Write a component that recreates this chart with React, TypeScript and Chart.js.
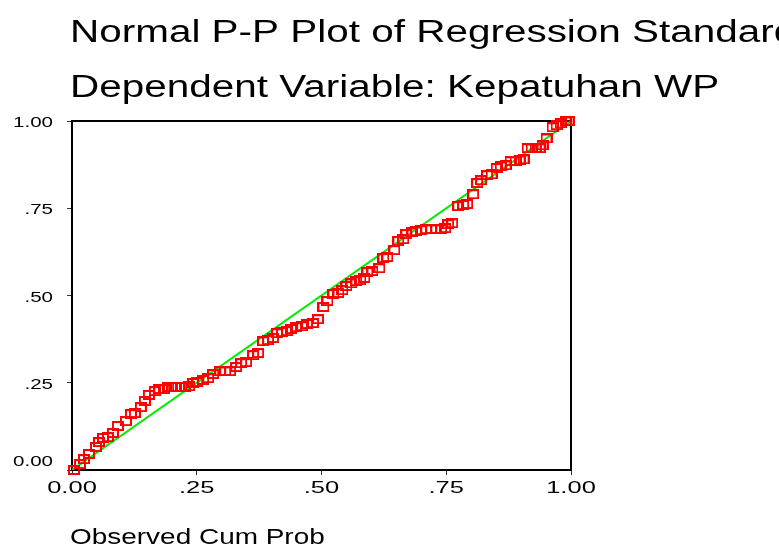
import React, { useEffect, useRef } from "react";
import { Chart, registerables } from "chart.js";

Chart.register(...registerables);

const titleLines = [
  "Normal P-P Plot of Regression Standardized Residual",
  "Dependent Variable: Kepatuhan WP",
];
const xAxisTitle = "Observed Cum Prob";
const tickValues = [0, 0.25, 0.5, 0.75, 1];
const xTickLabels = ["0.00", ".25", ".50", ".75", "1.00"];
const yTickLabels = ["0.00", ".25", ".50", ".75", "1.00"];

const observedCumProb = [
  0.004, 0.016, 0.024, 0.034, 0.048, 0.054, 0.062, 0.072, 0.082, 0.092,
  0.108, 0.118, 0.126, 0.138, 0.146, 0.154, 0.166, 0.175, 0.185, 0.193,
  0.201, 0.209, 0.219, 0.227, 0.235, 0.243, 0.251, 0.263, 0.273, 0.283,
  0.297, 0.307, 0.317, 0.329, 0.339, 0.349, 0.363, 0.373, 0.383, 0.393,
  0.403, 0.411, 0.421, 0.431, 0.439, 0.449, 0.461, 0.471, 0.483, 0.493,
  0.504, 0.512, 0.524, 0.534, 0.542, 0.55, 0.56, 0.57, 0.578, 0.586,
  0.592, 0.602, 0.616, 0.624, 0.632, 0.646, 0.654, 0.664, 0.67, 0.682,
  0.69, 0.7, 0.71, 0.72, 0.73, 0.74, 0.748, 0.754, 0.762, 0.774,
  0.784, 0.792, 0.804, 0.812, 0.82, 0.832, 0.841, 0.851, 0.859, 0.869,
  0.879, 0.889, 0.897, 0.905, 0.913, 0.921, 0.929, 0.937, 0.943, 0.951,
  0.963, 0.971, 0.979, 0.989, 0.995,
];

const expectedCumProb = [
  0.0, 0.017, 0.031, 0.046, 0.066, 0.08, 0.092, 0.094, 0.106, 0.126,
  0.14, 0.16, 0.163, 0.18, 0.198, 0.215, 0.226, 0.232, 0.232, 0.238,
  0.238, 0.238, 0.238, 0.238, 0.24, 0.249, 0.252, 0.258, 0.263, 0.275,
  0.283, 0.283, 0.283, 0.295, 0.306, 0.309, 0.329, 0.335, 0.369, 0.372,
  0.378, 0.392, 0.395, 0.398, 0.404, 0.409, 0.412, 0.418, 0.421, 0.432,
  0.467, 0.484, 0.504, 0.507, 0.515, 0.527, 0.535, 0.541, 0.544, 0.55,
  0.567, 0.57, 0.578, 0.607, 0.61, 0.63, 0.656, 0.661, 0.676, 0.681,
  0.684, 0.687, 0.69, 0.69, 0.69, 0.69, 0.693, 0.704, 0.707, 0.756,
  0.759, 0.762, 0.79, 0.822, 0.83, 0.845, 0.847, 0.865, 0.87, 0.873,
  0.885, 0.885, 0.887, 0.89, 0.922, 0.922, 0.922, 0.922, 0.93, 0.95,
  0.982, 0.988, 0.993, 0.999, 1.0,
];

const diagonalX = [0, 1];
const diagonalY = [0, 1];

const FONT = "'Liberation Sans', Arial, sans-serif";

function makeMarker(): HTMLCanvasElement {
  const c = document.createElement("canvas");
  c.width = 12;
  c.height = 10;
  const g = c.getContext("2d")!;
  g.strokeStyle = "#ff0000";
  g.lineWidth = 2;
  g.strokeRect(1, 1, 10, 8);
  return c;
}

function drawStretched(
  ctx: CanvasRenderingContext2D,
  text: string,
  x: number,
  y: number,
  size: number,
  sx: number,
  align: CanvasTextAlign
) {
  ctx.save();
  ctx.translate(x, y);
  ctx.scale(sx, 1);
  ctx.font = `${size}px ${FONT}`;
  ctx.textAlign = align;
  ctx.textBaseline = "middle";
  ctx.fillStyle = "#000";
  ctx.fillText(text, 0, 0);
  ctx.restore();
}

const framePlugin = {
  id: "frameBox",
  beforeDatasetsDraw(chart: any) {
    const { ctx, chartArea } = chart;
    ctx.save();
    ctx.strokeStyle = "#000";
    ctx.lineWidth = 2;
    ctx.beginPath();
    ctx.moveTo(chartArea.left, chartArea.top);
    ctx.lineTo(chartArea.right, chartArea.top);
    ctx.lineTo(chartArea.right, chartArea.bottom);
    ctx.stroke();
    ctx.restore();
  },
};

const textPlugin = {
  id: "spssText",
  afterDraw(chart: any) {
    const { ctx, chartArea, scales } = chart;
    drawStretched(ctx, titleLines[0], chartArea.left - 2, 33, 31, 1.305, "left");
    drawStretched(ctx, titleLines[1], chartArea.left - 2, 88, 31, 1.305, "left");

    tickValues.forEach((v, i) => {
      const py = scales.y.getPixelForValue(v);
      drawStretched(ctx, yTickLabels[i], chartArea.left - 19, Math.min(py + 2, chartArea.bottom - 8), 15, 1.37, "right");
    });

    tickValues.forEach((v, i) => {
      const px = scales.x.getPixelForValue(v);
      drawStretched(ctx, xTickLabels[i], px, chartArea.bottom + 18, 17, 1.5, "center");
    });

    drawStretched(ctx, xAxisTitle, chartArea.left - 2, chartArea.bottom + 68, 21.5, 1.3, "left");
  },
};

export default function App() {
  const ref = useRef<HTMLCanvasElement | null>(null);

  useEffect(() => {
    if (!ref.current) return;
    const marker = makeMarker();
    const points = observedCumProb.map((x, i) => ({ x, y: expectedCumProb[i] }));
    const diag = diagonalX.map((x, i) => ({ x, y: diagonalY[i] }));
    const axisCommon = {
      type: "linear" as const,
      min: 0,
      max: 1,
      ticks: { display: false, stepSize: 0.25 },
      grid: {
        drawOnChartArea: false,
        drawTicks: true,
        tickLength: 5,
        color: "#333",
        lineWidth: 1,
      },
      border: { display: true, color: "#000", width: 2 },
    };
    const chart = new Chart(ref.current, {
      type: "scatter",
      data: {
        datasets: [
          {
            label: "Observed",
            data: points,
            pointStyle: marker as any,
            pointRadius: 6,
            showLine: false,
            clip: false as any,
            order: 1,
          },
          {
            label: "Diagonal",
            data: diag,
            showLine: true,
            borderColor: "#00ee00",
            borderWidth: 2,
            pointRadius: 0,
            order: 2,
          },
        ],
      },
      options: {
        animation: false,
        responsive: false,
        devicePixelRatio: 1,
        layout: { padding: { left: 0, top: 121, right: 208, bottom: 46 } },
        plugins: { legend: { display: false }, tooltip: { enabled: false }, title: { display: false } },
        scales: {
          x: {
            ...axisCommon,
            afterFit: (s: any) => {
              s.height = 30;
            },
          },
          y: {
            ...axisCommon,
            afterFit: (s: any) => {
              s.width = 72;
            },
          },
        },
      },
      plugins: [framePlugin, textPlugin],
    });
    return () => chart.destroy();
  }, []);

  return (
    <div style={{ position: "absolute", left: 0, top: 0, width: 779, height: 546, background: "#fff" }}>
      <canvas ref={ref} width={779} height={546} style={{ display: "block" }} />
    </div>
  );
}
